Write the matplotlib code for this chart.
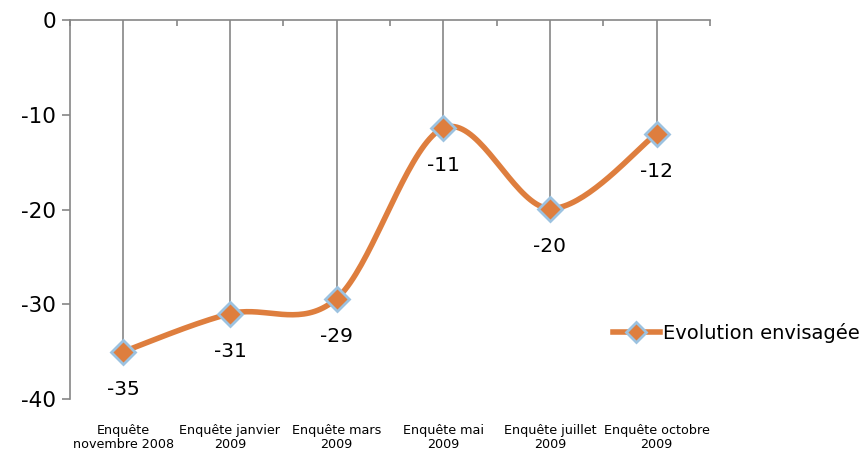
import numpy as np
import matplotlib
matplotlib.use("Agg")
import matplotlib.pyplot as plt
from matplotlib.lines import Line2D

# chart data
categories = ["Enquête\nnovembre 2008", "Enquête janvier\n2009", "Enquête mars\n2009",
              "Enquête mai\n2009", "Enquête juillet\n2009", "Enquête octobre\n2009"]
values = [-35, -31, -29.4, -11.4, -19.9, -12]
series_name = "Evolution envisagée"
y_ticks = [0, -10, -20, -30, -40]

ORANGE = "#DE7E3E"
EDGE = "#9CC2E0"
GREY = "#868686"


def smooth(xs, ys, n=40):
    # Excel-like smoothed line: cubic Bezier with Catmull-Rom control points
    pts = np.column_stack([xs, ys]).astype(float)
    out = [pts[0]]
    for i in range(len(pts) - 1):
        p0 = pts[max(i - 1, 0)]
        p1, p2 = pts[i], pts[i + 1]
        p3 = pts[min(i + 2, len(pts) - 1)]
        c1 = p1 + (p2 - p0) / 6
        c2 = p2 - (p3 - p1) / 6
        t = np.linspace(0, 1, n)[1:, None]
        seg = ((1 - t) ** 3) * p1 + 3 * ((1 - t) ** 2) * t * c1 + 3 * (1 - t) * t ** 2 * c2 + t ** 3 * p2
        out.extend(seg)
    out = np.array(out)
    return out[:, 0], out[:, 1]


plt.rcParams["font.family"] = ["DejaVu Sans"]
plt.rcParams["axes.unicode_minus"] = False

fig = plt.figure(figsize=(8.62, 4.55), dpi=100)
ax = fig.add_axes([70 / 862, 56 / 455, 640 / 862, 379 / 455])

x = np.arange(len(values))
ax.vlines(x, values, 0, color=GREY, lw=1.2, zorder=1)

sx, sy = smooth(x, values)
ax.plot(sx, sy, color=ORANGE, lw=4, solid_capstyle="round", zorder=2)
ax.plot(x, values, ls="none", marker="D", ms=12, mfc=ORANGE, mec=EDGE, mew=2, zorder=3)

for xi, v in zip(x, values):
    ax.annotate(f"{round(v):d}", (xi, v), xytext=(0, -27), textcoords="offset points",
                ha="center", va="center", fontsize=14.5, color="black")

ax.set_xlim(-0.5, len(values) - 0.5)
ax.set_ylim(-40, 0)
ax.set_yticks(y_ticks)
ax.tick_params(axis="y", labelsize=15.5, length=6, color=GREY, width=1.2, pad=4)

# category labels at the bottom, axis line at the top (value 0)
ax.set_xticks(x)
ax.set_xticklabels(categories, fontsize=9.2, linespacing=1.05)
ax.tick_params(axis="x", which="major", bottom=True, top=False, length=0, pad=18)
ax.set_xticks(np.arange(len(values) + 1) - 0.5, minor=True)
ax.tick_params(axis="x", which="minor", bottom=False, top=True, direction="in",
               length=4, color=GREY, width=1.2)

for side in ["right", "bottom"]:
    ax.spines[side].set_visible(False)
for side in ["left", "top"]:
    ax.spines[side].set_color(GREY)
    ax.spines[side].set_linewidth(1.2)

handle = Line2D([], [], color=ORANGE, lw=4, marker="D", ms=10, mfc=ORANGE, mec=EDGE, mew=2)
fig.legend([handle], [series_name], loc="center left", bbox_to_anchor=(613 / 862, 1 - 333 / 455),
           frameon=False, fontsize=14, handlelength=2.4, handletextpad=0.15, borderpad=0,
           borderaxespad=0)

fig.savefig("out.png", dpi=100)
